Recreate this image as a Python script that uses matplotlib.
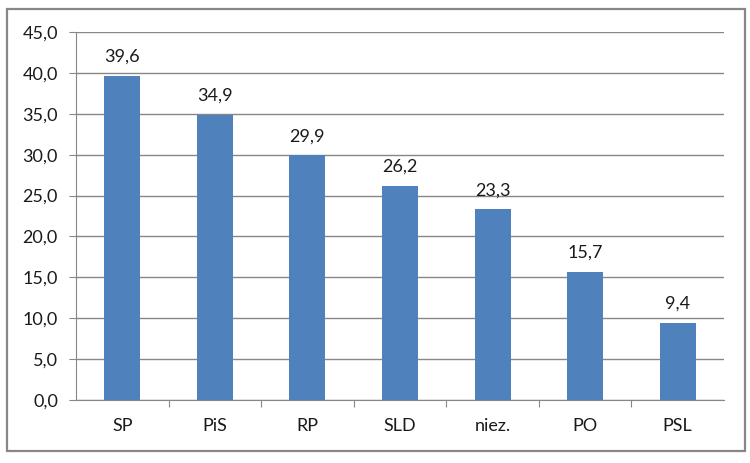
import matplotlib.pyplot as plt
from matplotlib.patches import Rectangle

parties = ["SP", "PiS", "RP", "SLD", "niez.", "PO", "PSL"]
values = [39.6, 34.9, 29.9, 26.2, 23.3, 15.7, 9.4]
yticks = [0, 5, 10, 15, 20, 25, 30, 35, 40, 45]

plt.rcParams['font.family'] = ['Lato', 'DejaVu Sans']

fig = plt.figure(figsize=(7.5, 4.63), dpi=100)
ax = fig.add_axes([76 / 750, 63 / 463, 648 / 750, 368 / 463])

# ramka wokol wykresu
fig.patches.append(Rectangle((7 / 750, 12 / 463), 738 / 750, 442 / 463,
                             transform=fig.transFigure, fill=False,
                             edgecolor="#878787", linewidth=1.6))

x = range(len(parties))
bars = ax.bar(x, values, width=0.39, color="#4F81BD", zorder=3)
ax.bar_label(bars, labels=[f"{v:.1f}".replace(".", ",") for v in values],
             padding=8, fontsize=13, color="#1a1a1a")

ax.set_xlim(-0.5, len(parties) - 0.5)
ax.set_ylim(0, 45)
ax.set_yticks(yticks)
ax.set_yticklabels([f"{v:.1f}".replace(".", ",") for v in yticks], fontsize=13, color="#1a1a1a")
ax.set_xticks([i + 0.5 for i in range(len(parties) - 1)], minor=False)
ax.set_xticklabels([])
ax.set_xticks(list(x), minor=True)
ax.set_xticklabels(parties, minor=True, fontsize=13, color="#1a1a1a")
ax.tick_params(axis="x", which="major", length=5, color="#878787")
ax.tick_params(axis="x", which="minor", length=0, pad=13)
ax.tick_params(axis="y", length=5, color="#878787", pad=8)

ax.yaxis.grid(True, color="#878787", linewidth=1.0, zorder=0)
for side in ["top", "right"]:
    ax.spines[side].set_visible(False)
ax.spines["left"].set_color("#878787")
ax.spines["bottom"].set_color("#878787")

fig.savefig("out.png", dpi=100)
